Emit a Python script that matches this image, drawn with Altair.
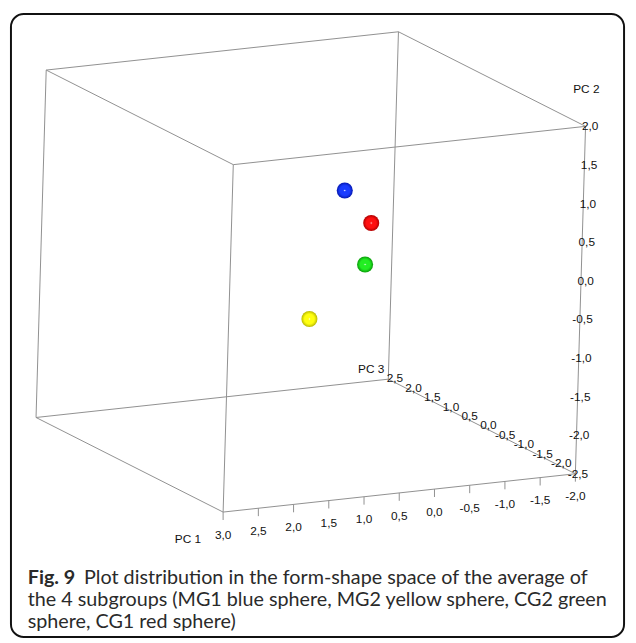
import itertools
import altair as alt
import pandas as pd

# ---------------- data ----------------
# cube extent on each principal component
pc1_lim = [3.0, -2.0]
pc2_lim = [-2.5, 2.0]
pc3_lim = [2.5, -2.5]

pc1_ticks = [3.0, 2.5, 2.0, 1.5, 1.0, 0.5, 0.0, -0.5, -1.0, -1.5, -2.0]
pc2_ticks = [2.0, 1.5, 1.0, 0.5, 0.0, -0.5, -1.0, -1.5, -2.0, -2.5]
pc3_ticks = [2.5, 2.0, 1.5, 1.0, 0.5, 0.0, -0.5, -1.0, -1.5, -2.0]

groups = ["MG1", "CG1", "CG2", "MG2"]
group_colors = ["blue", "red", "green", "yellow"]
pc1_vals = [0.05, -0.34, -0.27, 0.50]
pc2_vals = [0.76, 0.30, -0.23, -0.86]
pc3_vals = [0.0, 0.0, 0.0, 0.0]

caption_1a = "Fig. 9"
caption_1b = "Plot distribution in the form-shape space of the average of"
caption_2 = "the 4 subgroups (MG1 blue sphere, MG2 yellow sphere, CG2 green"
caption_3 = "sphere, CG1 red sphere)"

# ---------------- projection (oblique 3D view) ----------------
O = (350.95, 247.8)
U1 = (-71.36, 7.76)
U2 = (2.29, -78.2)
U3 = (-37.9, -19.16)


def px(a, b, c):
    return f"{O[0]} + ({U1[0]})*datum.{a} + ({U2[0]})*datum.{b} + ({U3[0]})*datum.{c}"


def py(a, b, c):
    return f"{O[1]} + ({U1[1]})*datum.{a} + ({U2[1]})*datum.{b} + ({U3[1]})*datum.{c}"


def fmt(v):
    return f"{v:.1f}".replace(".", ",")


W, H = 628, 635
xs = alt.Scale(domain=[8, 8 + W], nice=False, zero=False)
ys = alt.Scale(domain=[8, 8 + H], nice=False, zero=False, reverse=True)
X = alt.X("sx:Q", scale=xs, axis=None)
Y = alt.Y("sy:Q", scale=ys, axis=None)

# cube edges
corners = list(itertools.product(pc1_lim, pc2_lim, pc3_lim))
edges = []
for a, b in itertools.combinations(corners, 2):
    if sum(1 for i in range(3) if a[i] != b[i]) == 1:
        edges.append(dict(a1=a[0], a2=a[1], a3=a[2], b1=b[0], b2=b[1], b3=b[2]))
edge_df = pd.DataFrame(edges)

line_col = "#8f8f8f"
edge_layer = (
    alt.Chart(edge_df)
    .transform_calculate(
        sx=px("a1", "a2", "a3"), sy=py("a1", "a2", "a3"),
        ex=px("b1", "b2", "b3"), ey=py("b1", "b2", "b3"),
    )
    .mark_rule(color=line_col, strokeWidth=1)
    .encode(x=X, y=Y, x2="ex:Q", y2="ey:Q")
)

# PC1 axis (front bottom edge), ticks and labels
pc1_df = pd.DataFrame({
    "p1": pc1_ticks, "p2": pc2_lim[0], "p3": pc3_lim[1],
    "label": [fmt(v) for v in pc1_ticks],
})
pc1_base = alt.Chart(pc1_df).transform_calculate(
    sx=px("p1", "p2", "p3"), sy=py("p1", "p2", "p3")
).transform_calculate(ey="datum.sy + 8")
pc1_tick_layer = pc1_base.mark_rule(color=line_col, strokeWidth=1).encode(x=X, y=Y, y2="ey:Q")
label_style = dict(font="Liberation Sans", fontSize=12, color="#111111")
pc1_text = pc1_base.mark_text(align="center", baseline="middle", dy=23, **label_style).encode(
    x=X, y=Y, text="label:N")

# PC2 axis (front right vertical edge)
pc2_df = pd.DataFrame({
    "p1": pc1_lim[1], "p2": pc2_ticks, "p3": pc3_lim[1],
    "label": [fmt(v) for v in pc2_ticks],
})
pc2_text = (
    alt.Chart(pc2_df)
    .transform_calculate(sx=px("p1", "p2", "p3"), sy=py("p1", "p2", "p3"))
    .mark_text(align="right", baseline="middle", dx=13, **label_style)
    .encode(x=X, y=Y, text="label:N")
)

# PC3 axis (right bottom edge)
pc3_df = pd.DataFrame({
    "p1": pc1_lim[1], "p2": pc2_lim[0], "p3": pc3_ticks,
    "label": [fmt(v) for v in pc3_ticks],
})
pc3_text = (
    alt.Chart(pc3_df)
    .transform_calculate(sx=px("p1", "p2", "p3"), sy=py("p1", "p2", "p3"))
    .mark_text(align="right", baseline="middle", dx=15, dy=-1, **label_style)
    .encode(x=X, y=Y, text="label:N")
)

# axis titles, one step beyond the last tick of each axis
title_df = pd.DataFrame({
    "p1": [3.5, -2.0, -2.0],
    "p2": [-2.5, 2.5, -2.5],
    "p3": [-2.5, -2.5, 3.0],
    "label": ["PC 1", "PC 2", "PC 3"],
})
title_base = alt.Chart(title_df).transform_calculate(
    sx=px("p1", "p2", "p3"), sy=py("p1", "p2", "p3"))
t1 = title_base.transform_filter(alt.datum.label == "PC 1").mark_text(
    align="center", baseline="middle", dy=23, **label_style).encode(x=X, y=Y, text="label:N")
t2 = title_base.transform_filter(alt.datum.label == "PC 2").mark_text(
    align="right", baseline="middle", dx=13, dy=1.5, **label_style).encode(x=X, y=Y, text="label:N")
t3 = title_base.transform_filter(alt.datum.label == "PC 3").mark_text(
    align="right", baseline="middle", dx=15, dy=-1, **label_style).encode(x=X, y=Y, text="label:N")

# spheres
sphere_df = pd.DataFrame({
    "group": groups, "colour": group_colors,
    "p1": pc1_vals, "p2": pc2_vals, "p3": pc3_vals,
})
shades = {
    "blue": ("#1a3cff", "#0518b0"),
    "red": ("#ff1010", "#b00000"),
    "green": ("#22ee22", "#0a9a0a"),
    "yellow": ("#ffff10", "#b8b800"),
}
sphere_layers = []
for g, c in zip(groups, group_colors):
    base, dark = shades[c]
    grad = alt.RadialGradient(
        gradient="radial",
        stops=[
            alt.GradientStop(color="#ffffff", offset=0),
            alt.GradientStop(color=base, offset=0.14),
            alt.GradientStop(color=base, offset=0.62),
            alt.GradientStop(color=dark, offset=1),
        ],
        x1=0.5, y1=0.5, r1=0, x2=0.5, y2=0.5, r2=0.5,
    )
    sphere_layers.append(
        alt.Chart(sphere_df)
        .transform_filter(alt.datum.group == g)
        .transform_calculate(sx=px("p1", "p2", "p3"), sy=py("p1", "p2", "p3"))
        .mark_circle(size=265, opacity=1, fill=grad, strokeWidth=0)
        .encode(x=X, y=Y)
    )

# frame and caption
frame = alt.Chart(pd.DataFrame({"k": [0]})).mark_rect(
    fillOpacity=0, stroke="#111111", strokeWidth=2, cornerRadius=13
).encode(x=alt.value(3), x2=alt.value(624), y=alt.value(2), y2=alt.value(633))

cap_style = dict(font="Lato", fontSize=20, color="#2a2a2a", align="left", baseline="alphabetic")
cap_df = pd.DataFrame({"k": [0]})
cap1a = alt.Chart(cap_df).mark_text(text=caption_1a, fontWeight="bold", **cap_style).encode(
    x=alt.value(20), y=alt.value(579))
cap1b = alt.Chart(cap_df).mark_text(text=caption_1b, **cap_style).encode(
    x=alt.value(77), y=alt.value(579))
cap2 = alt.Chart(cap_df).mark_text(text=caption_2, **cap_style).encode(
    x=alt.value(20), y=alt.value(602))
cap3 = alt.Chart(cap_df).mark_text(text=caption_3, **cap_style).encode(
    x=alt.value(20), y=alt.value(624))

chart = alt.layer(
    frame, edge_layer, pc1_tick_layer, pc1_text, pc2_text, pc3_text, t1, t2, t3,
    *sphere_layers, cap1a, cap1b, cap2, cap3,
).properties(
    width=W, height=H, autosize=alt.AutoSizeParams(type="none"), padding=0,
    background="white",
).configure_view(stroke=None)

chart.save("out.html", embed_options={"renderer": "svg", "actions": False})
